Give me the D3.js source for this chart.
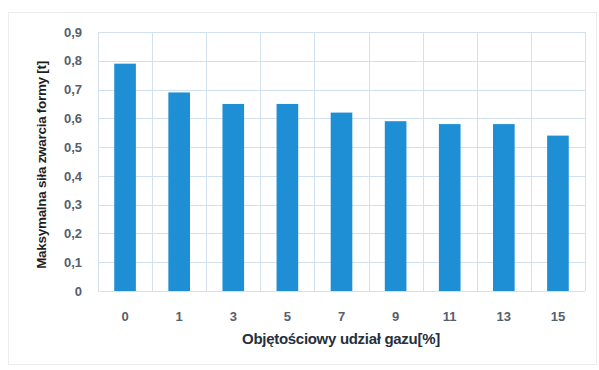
<!DOCTYPE html>
<html>
<head>
<meta charset="utf-8">
<script src="https://cdn.jsdelivr.net/npm/d3@7"></script>
<style>
  html, body { margin: 0; padding: 0; background: #fff; }
  svg { display: block; font-family: "Liberation Sans", Arial, sans-serif; }
</style>
</head>
<body>
<svg id="chart" width="599" height="370"></svg>
<script>
// Gas volume share [%] and maximum mould clamping force [t]
const categories = ["0", "1", "3", "5", "7", "9", "11", "13", "15"];
const forceValues = [0.79, 0.69, 0.65, 0.65, 0.62, 0.59, 0.58, 0.58, 0.54];
const yTicks = [0, 0.1, 0.2, 0.3, 0.4, 0.5, 0.6, 0.7, 0.8, 0.9];

const xTitle = "Objętościowy udział gazu[%]";
const yTitle = "Maksymalna siła zwarcia formy [t]";

const svg = d3.select("#chart");
const margin = { left: 98, right: 14, top: 32, bottom: 79 };
const W = 599, H = 370;
const plotW = W - margin.left - margin.right;
const plotH = H - margin.top - margin.bottom;

// outer chart frame
svg.append("rect")
  .attr("x", 8.5).attr("y", 12.5)
  .attr("width", 588).attr("height", 352)
  .attr("fill", "#fff").attr("stroke", "#ececec");

const g = svg.append("g").attr("transform", `translate(${margin.left},${margin.top})`);

const x = d3.scaleBand().domain(categories).range([0, plotW]).paddingInner(0.6).paddingOuter(0.3);
const y = d3.scaleLinear().domain([0, 0.9]).range([plotH, 0]);

// horizontal gridlines
g.append("g").selectAll("line").data(yTicks).join("line")
  .attr("x1", 0).attr("x2", plotW)
  .attr("y1", d => Math.round(y(d)) + 0.5).attr("y2", d => Math.round(y(d)) + 0.5)
  .attr("stroke", "#d3e1ee").attr("stroke-width", 1);

// vertical gridlines at category boundaries
const step = x.step();
const edge = i => (i === categories.length) ? plotW : (x(categories[i]) - (step - x.bandwidth()) / 2);
g.append("g").selectAll("line").data(d3.range(categories.length + 1)).join("line")
  .attr("x1", i => Math.round(edge(i)) + 0.5).attr("x2", i => Math.round(edge(i)) + 0.5)
  .attr("y1", 0).attr("y2", plotH)
  .attr("stroke", "#d3e1ee").attr("stroke-width", 1);

// bars
g.append("g").selectAll("rect").data(forceValues).join("rect")
  .attr("x", (d, i) => x(categories[i]))
  .attr("width", x.bandwidth())
  .attr("y", d => y(d))
  .attr("height", d => plotH - y(d))
  .attr("fill", "#1e8fd5");

// y axis labels
const yAxis = d3.axisLeft(y).tickValues(yTicks).tickSize(0).tickPadding(16)
  .tickFormat(d => d === 0 ? "0" : d3.format(".1f")(d).replace(".", ","));
g.append("g").call(yAxis)
  .call(a => a.select(".domain").remove())
  .selectAll("text")
  .attr("font-size", 13).attr("font-weight", "bold").attr("fill", "#55606e");

// x axis labels
const xAxis = d3.axisBottom(x).tickSize(0).tickPadding(21);
g.append("g").attr("transform", `translate(0,${plotH})`).call(xAxis)
  .call(a => a.select(".domain").remove())
  .selectAll("text")
  .attr("font-size", 13).attr("font-weight", "bold").attr("fill", "#55606e");

// axis titles
svg.append("text")
  .attr("x", 341).attr("y", 344)
  .attr("text-anchor", "middle")
  .attr("font-size", 15).attr("font-weight", "bold").attr("fill", "#26303c")
  .attr("letter-spacing", -0.3)
  .text(xTitle);

svg.append("text")
  .attr("transform", "translate(46,165) rotate(-90)")
  .attr("text-anchor", "middle")
  .attr("font-size", 13.5).attr("font-weight", "bold").attr("fill", "#1e1e1e")
  .attr("letter-spacing", -0.3)
  .text(yTitle);
</script>
</body>
</html>
